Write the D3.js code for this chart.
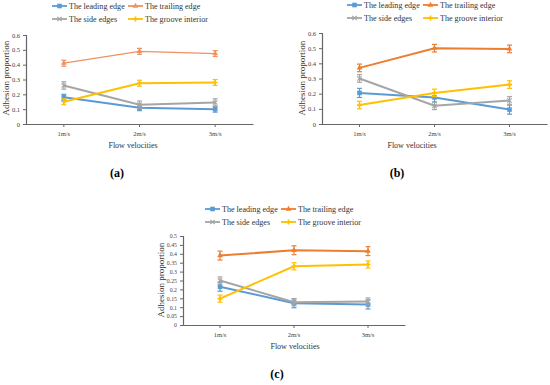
<!DOCTYPE html>
<html><head><meta charset="utf-8">
<script src="https://cdn.jsdelivr.net/npm/d3@7"></script>
<style>body{margin:0;background:#fff}svg{display:block}</style>
</head><body>
<svg id="c" width="550" height="385"></svg>
<script>
const categories = ["1m/s", "2m/s", "3m/s"];
const seriesNames = ["The leading edge", "The trailing edge", "The side edges", "The groove interior"];
const seriesColors = ["#5B9BD5", "#ED7D31", "#A5A5A5", "#FFC000"];
const panelLabels = ["(a)", "(b)", "(c)"];

// Panel (a)
const aLeading = [0.18, 0.11, 0.10];
const aTrailing = [0.41, 0.49, 0.475];
const aSide = [0.26, 0.13, 0.145];
const aGroove = [0.15, 0.275, 0.28];
const aErr = [0.02, 0.02, 0.025, 0.02];
const aTicks = [0, 0.1, 0.2, 0.3, 0.4, 0.5, 0.6];

// Panel (b)
const bLeading = [0.205, 0.175, 0.095];
const bTrailing = [0.37, 0.50, 0.495];
const bSide = [0.30, 0.12, 0.155];
const bGroove = [0.125, 0.205, 0.26];
const bErr = [0.03, 0.025, 0.025, 0.025];
const bTicks = [0, 0.1, 0.2, 0.3, 0.4, 0.5, 0.6];

// Panel (c)
const cLeading = [0.215, 0.122, 0.115];
const cTrailing = [0.39, 0.42, 0.415];
const cSide = [0.25, 0.128, 0.132];
const cGroove = [0.148, 0.33, 0.34];
const cErr = [0.025, 0.025, 0.02, 0.02];
const cTicks = [0, 0.05, 0.1, 0.15, 0.2, 0.25, 0.3, 0.35, 0.4, 0.45, 0.5];

const svg = d3.select("#c");
const serif = "'Liberation Serif', 'DejaVu Serif', serif";

const panels = [
  {series:[aLeading,aTrailing,aSide,aGroove], err:aErr, ticks:aTicks, ymax:0.6, tickFont:6.5,
   x0:26, x1:253, yb:124, yt:35, legX:52, legY:6, label:panelLabels[0], labX:117, labY:173,
   titleX:133, titleY:145, yLabX:6, yLabY:78, trailColor:"#F19060", trailW:1.2},
  {series:[bLeading,bTrailing,bSide,bGroove], err:bErr, ticks:bTicks, ymax:0.6, tickFont:6.5,
   x0:322, x1:547, yb:124, yt:33, legX:347, legY:5, label:panelLabels[1], labX:397, labY:173,
   titleX:412, titleY:145, yLabX:302, yLabY:78, trailColor:seriesColors[1], trailW:2},
  {series:[cLeading,cTrailing,cSide,cGroove], err:cErr, ticks:cTicks, ymax:0.5, tickFont:5.8,
   x0:183, x1:405, yb:325, yt:236, legX:205, legY:209, label:panelLabels[2], labX:277, labY:374,
   titleX:295, titleY:346, yLabX:161, yLabY:280, trailColor:seriesColors[1], trailW:2}
];

function marker(g, type, x, y, color) {
  if (type === 0) {
    g.append("rect").attr("x", x-2.3).attr("y", y-2.3).attr("width", 4.6).attr("height", 4.6).attr("fill", color);
  } else if (type === 1) {
    g.append("path").attr("d", d3.symbol(d3.symbolTriangle, 14)()).attr("transform", `translate(${x},${y})`).attr("fill", color);
  } else if (type === 2) {
    g.append("path").attr("d", d3.symbol(d3.symbolTimes, 14)()).attr("transform", `translate(${x},${y})`).attr("stroke", color).attr("stroke-width", 1.2).attr("fill", "none");
  } else {
    g.append("path").attr("d", d3.symbol(d3.symbolCross, 14)()).attr("transform", `translate(${x},${y})`).attr("fill", color);
  }
}

panels.forEach(p => {
  const g = svg.append("g");
  const x = d3.scaleBand().domain(categories).range([p.x0, p.x1]);
  const y = d3.scaleLinear().domain([0, p.ymax]).range([p.yb, p.yt]);
  const cx = c => x(c) + x.bandwidth()/2;

  // Y axis
  const yAxis = d3.axisLeft(y).tickValues(p.ticks).tickSize(3).tickPadding(3)
    .tickFormat(d => String(+d.toFixed(2)));
  const ya = g.append("g").attr("transform", `translate(${p.x0},0)`).call(yAxis);
  ya.select(".domain").attr("stroke", "#666").attr("stroke-width", 1.2);
  ya.selectAll(".tick line").attr("stroke", "#666");
  ya.selectAll("text").attr("font-family", serif).attr("font-size", p.tickFont).attr("fill", "#444");

  // X axis
  const xAxis = d3.axisBottom(x).tickSize(3).tickSizeOuter(0).tickPadding(4);
  const xa = g.append("g").attr("transform", `translate(0,${p.yb})`).call(xAxis);
  xa.select(".domain").attr("stroke", "#666").attr("stroke-width", 1.2);
  xa.selectAll(".tick line").attr("stroke", "#666");
  xa.selectAll("text").attr("font-family", serif).attr("font-size", 6.5).attr("fill", "#444");

  // Lines
  p.series.forEach((vals, si) => {
    const color = si === 1 ? p.trailColor : seriesColors[si];
    const w = si === 1 ? p.trailW : 2;
    const line = d3.line().x((d, i) => cx(categories[i])).y(d => y(d));
    g.append("path").datum(vals).attr("d", line).attr("fill", "none")
      .attr("stroke", color).attr("stroke-width", w);
    vals.forEach((v, i) => {
      const xx = cx(categories[i]);
      const e = p.err[si];
      g.append("line").attr("x1", xx).attr("x2", xx).attr("y1", y(v - e)).attr("y2", y(v + e))
        .attr("stroke", color).attr("stroke-width", 1.2);
      [v - e, v + e].forEach(t => g.append("line").attr("x1", xx - 2.5).attr("x2", xx + 2.5)
        .attr("y1", y(t)).attr("y2", y(t)).attr("stroke", color).attr("stroke-width", 1.2));
      marker(g, si, xx, y(v), color);
    });
  });

  // Legend
  seriesNames.forEach((name, si) => {
    const col = si % 2, row = Math.floor(si / 2);
    const lx = p.legX + col * 76, ly = p.legY + row * 13;
    const color = si === 1 ? p.trailColor : seriesColors[si];
    g.append("line").attr("x1", lx).attr("x2", lx + 15).attr("y1", ly).attr("y2", ly)
      .attr("stroke", color).attr("stroke-width", 1.8);
    marker(g, si, lx + 7.5, ly, color);
    g.append("text").attr("x", lx + 17).attr("y", ly).attr("dy", "0.35em")
      .attr("font-family", serif).attr("font-size", 8.1).attr("fill", "#333").text(name);
  });

  // Axis titles
  g.append("text").attr("x", p.titleX).attr("y", p.titleY).attr("dy", "0.35em").attr("text-anchor", "middle")
    .attr("font-family", serif).attr("font-size", 8).attr("fill", "#333").text("Flow velocities");
  g.append("text").attr("transform", `translate(${p.yLabX},${p.yLabY}) rotate(-90)`).attr("dy", "0.35em")
    .attr("text-anchor", "middle").attr("font-family", serif).attr("font-size", 9).attr("fill", "#333")
    .text("Adhesion proportion");

  // Panel label
  g.append("text").attr("x", p.labX).attr("y", p.labY).attr("dy", "0.35em").attr("text-anchor", "middle")
    .attr("font-family", serif).attr("font-size", 12).attr("font-weight", "bold").attr("fill", "#000").text(p.label);
});
</script>
</body></html>
